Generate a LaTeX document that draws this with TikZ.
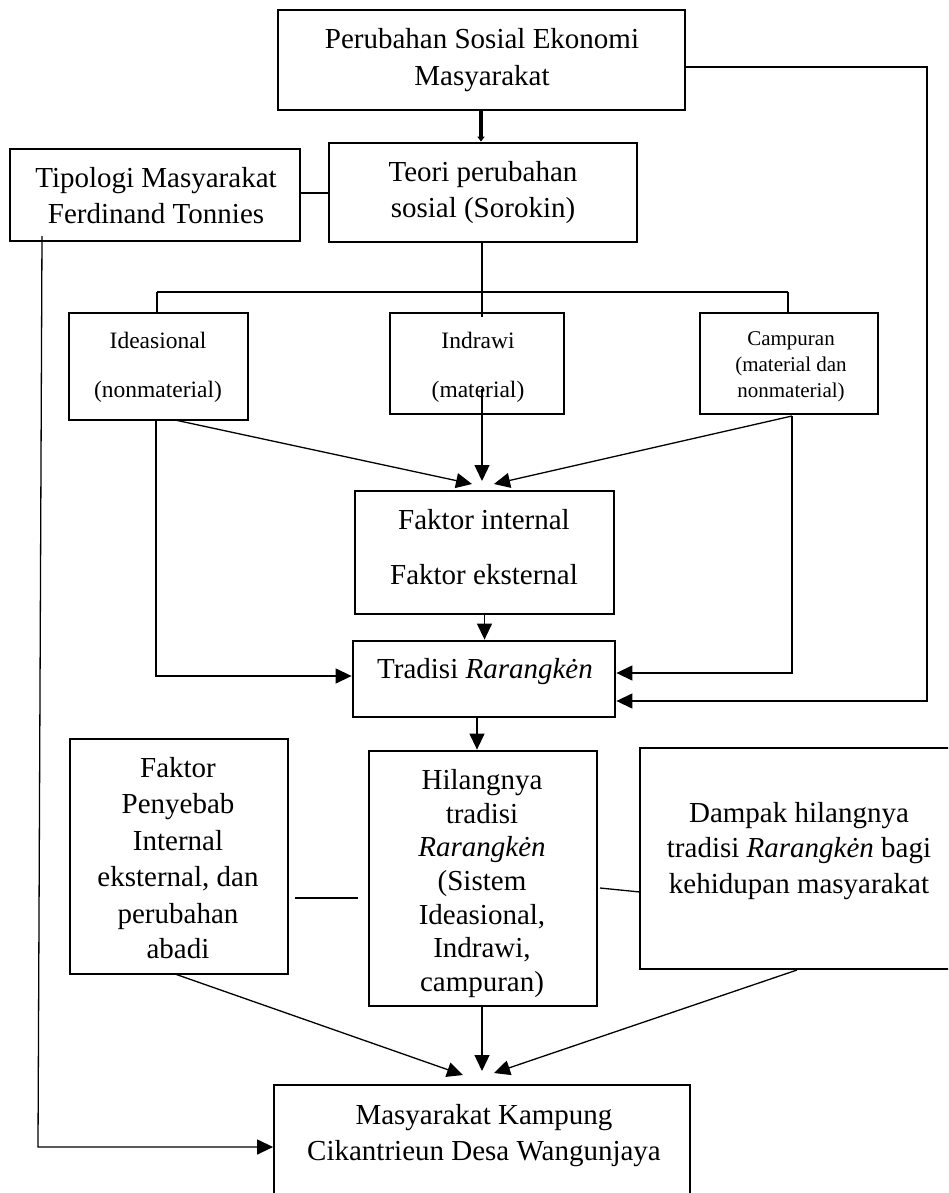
\documentclass[tikz,border=0pt]{standalone}
\usepackage{fontspec}
\setmainfont{Liberation Serif}
\usetikzlibrary{arrows.meta}
\begin{document}
\begin{tikzpicture}[x=1pt,y=-1pt,
  box/.style={draw, line width=2.8pt, inner sep=0pt},
  thinbox/.style={draw, line width=1.8pt, inner sep=0pt},
  txt/.style={anchor=base, inner sep=0pt, font=\fontsize{29}{36}\selectfont},
  stxt/.style={anchor=base, inner sep=0pt, font=\fontsize{23.5}{28}\selectfont},
  xtxt/.style={anchor=base, inner sep=0pt, font=\fontsize{21}{26}\selectfont},
  conn/.style={line width=1.3pt},
  arr/.style={line width=1.3pt, -{Triangle[length=16pt,width=15pt]}}]
\useasboundingbox (0,0) rectangle (948,1193);
\clip (0,0) rectangle (948,1193);

% boxes
\node[box, minimum width=407, minimum height=100] (b1) at (481.5,60) {};
\node[box, minimum width=308, minimum height=99] (teori) at (483,192.5) {};
\node[thinbox, minimum width=290, minimum height=92] (tip) at (155,195) {};
\node[box, minimum width=179, minimum height=107] (ide) at (158.5,366.5) {};
\node[box, minimum width=174, minimum height=101] (ind) at (477,363.5) {};
\node[box, minimum width=178, minimum height=101] (cam) at (789,363.5) {};
\node[box, minimum width=259, minimum height=123] (fak) at (484.5,552.5) {};
\node[box, minimum width=262, minimum height=76] (tra) at (484,679) {};
\node[box, minimum width=218, minimum height=235] (fp) at (179,856.5) {};
\node[box, minimum width=228, minimum height=255] (hil) at (483,878.5) {};
\node[box, minimum width=325, minimum height=221] (dam) at (802.5,858.5) {};
\node[thinbox, minimum width=416, minimum height=130] (mas) at (482,1150) {};

% texts
\node[txt] (t1a) at (482,49) {Perubahan Sosial Ekonomi};
\node[txt] (t1b) at (482,86) {Masyarakat};
\node[txt] (t2a) at (483,182) {Teori perubahan};
\node[txt] (t2b) at (483,218) {sosial (Sorokin)};
\node[txt] (t3a) at (156,187) {Tipologi Masyarakat};
\node[txt] (t3b) at (156,223) {Ferdinand Tonnies};
\node[stxt] (t4a) at (158,348) {Ideasional};
\node[stxt] (t4b) at (158,397) {(nonmaterial)};
\node[stxt] (t5a) at (478,348) {Indrawi};
\node[stxt] (t5b) at (478,397) {(material)};
\node[xtxt] (t6a) at (791,345) {Campuran};
\node[xtxt] (t6b) at (791,371) {(material dan};
\node[xtxt] (t6c) at (791,397) {nonmaterial)};
\node[txt] (t7a) at (484,529) {Faktor internal};
\node[txt] (t7b) at (484,584) {Faktor eksternal};
\node[txt] (t8) at (485,678) {Tradisi \textit{Rarangkėn}};
\node[txt] (t9a) at (178,777) {Faktor};
\node[txt] (t9b) at (178,813) {Penyebab};
\node[txt] (t9c) at (178,850) {Internal};
\node[txt] (t9d) at (178,886) {eksternal, dan};
\node[txt] (t9e) at (178,923) {perubahan};
\node[txt] (t9f) at (178,958) {abadi};
\node[txt] (t10a) at (482,789) {Hilangnya};
\node[txt] (t10b) at (482,823) {tradisi};
\node[txt] (t10c) at (482,856) {\textit{Rarangkėn}};
\node[txt] (t10d) at (482,890) {(Sistem};
\node[txt] (t10e) at (482,924) {Ideasional,};
\node[txt] (t10f) at (482,957) {Indrawi,};
\node[txt] (t10g) at (482,991) {campuran)};
\node[txt] (t11a) at (799,822) {Dampak hilangnya};
\node[txt] (t11b) at (799,857) {tradisi \textit{Rarangkėn} bagi};
\node[txt] (t11c) at (799,893) {kehidupan masyarakat};
\node[txt] (t12a) at (484,1124) {Masyarakat Kampung};
\node[txt] (t12b) at (484,1160) {Cikantrieun Desa Wangunjaya};

% coordinates
\coordinate (x481) at (481,0);
\coordinate (tm) at (0,193);
\coordinate (barL) at (157,292);
\coordinate (barR) at (788,292);
\coordinate (indIn) at (482,389);
\coordinate (conv) at (482,481);
\coordinate (ideOut) at (175,420);
\coordinate (camOut) at (792,416);
\coordinate (fakL) at (472,484);
\coordinate (fakR) at (494,484);
\coordinate (ideL) at (156,676);
\coordinate (camR) at (792,673);
\coordinate (r1) at (927,67);
\coordinate (r2) at (927,701);
\coordinate (x477) at (477,0);
\coordinate (m1) at (295,898);
\coordinate (m2) at (358,898);
\coordinate (m3) at (600,888);
\coordinate (m4) at (640,892);
\coordinate (fpOut) at (175,974);
\coordinate (masL) at (463,1075);
\coordinate (masC) at (482,1071);
\coordinate (masR) at (494,1073);
\coordinate (damOut) at (797,970);
\coordinate (l1) at (42,236);
\coordinate (l2) at (38,1147);

% connectors
\draw[line width=4.5pt, -{Triangle[length=5pt,width=7pt]}] (b1.south -| x481) -- (teori.north -| x481);
\draw[conn] (tip.east |- tm) -- (teori.west |- tm);
\draw[conn] (teori.south -| indIn) -- ++(0,74);
\draw[conn] (barL) -- (barR);
\draw[conn] (barL) -- (barL |- ide.north);
\draw[conn] (barR) -- (barR |- cam.north);
\draw[arr] (indIn) -- (conv);
\draw[arr] (ideOut) -- (fakL);
\draw[arr] (camOut) -- (fakR);
\draw[arr] (fak.south) -- (fak.south |- tra.north);
\draw[arr] (ideL |- ide.south) -- (ideL) -- (tra.west |- ideL);
\draw[arr] (camOut) -- (camR) -- (tra.east |- camR);
\draw[arr] (b1.east |- r1) -- (r1) -- (r2) -- (tra.east |- r2);
\draw[arr] (tra.south -| x477) -- (hil.north -| x477);
\draw[conn] (m1) -- (m2);
\draw[conn] (m3) -- (m4);
\draw[arr] (fpOut) -- (masL);
\draw[arr] (hil.south -| masC) -- (masC);
\draw[arr] (damOut) -- (masR);
\draw[arr] (l1) -- (l2) -- (mas.west |- l2);
\end{tikzpicture}
\end{document}
